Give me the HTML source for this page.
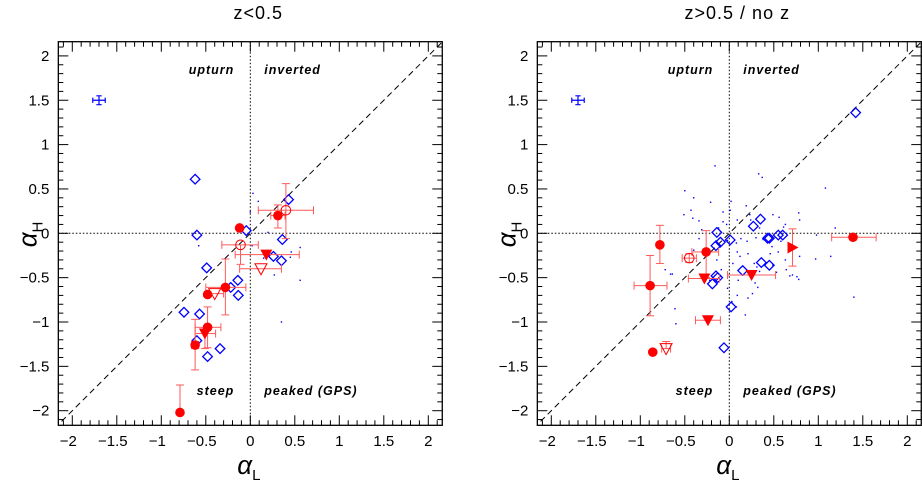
<!DOCTYPE html>
<html><head><meta charset="utf-8"><style>
html,body{margin:0;padding:0;background:#fff}
svg text{font-family:"Liberation Sans",sans-serif}
</style></head><body>
<svg id="c" width="922" height="484" viewBox="0 0 922 484" xmlns="http://www.w3.org/2000/svg"></svg>
<script>
// ---- data: left panel (z<0.5) ----
const leftDiamonds=[[-0.62,0.61],[-0.60,-0.02],[-0.045,0.03],[0.43,0.38],[0.36,-0.07],[0.26,-0.26],[0.35,-0.31],[-0.49,-0.39],[-0.14,-0.53],[-0.22,-0.61],[-0.135,-0.70],[-0.745,-0.89],[-0.57,-0.91],[-0.60,-1.21],[-0.48,-1.39],[-0.34,-1.30]];
const leftDots=[[0.03,0.45],[0.09,0.36],[0,0.24],[0.20,0.01],[0.02,-0.14],[-0.58,-0.14],[0.27,-0.47],[0.56,-0.53],[0.56,-0.16],[0.46,-0.21],[0.35,-1.0],[0.15,-0.28],[0.45,-0.27]];
// [x,y,xlo,xhi,ylo,yhi]
const leftCircles=[[-0.12,0.06,null,null,null,null],[0.31,0.20,0.23,0.39,0.06,0.32],[-0.28,-0.61,-0.50,-0.05,-0.92,-0.29],[-0.48,-0.69,null,null,null,null],[-0.48,-1.06,-0.62,-0.33,-1.29,-0.83],[-0.62,-1.26,-0.66,-0.58,-1.54,-0.97],[-0.79,-2.02,null,null,null,-1.71]];
const leftOpenCircles=[[0.40,0.26,0.09,0.71,-0.06,0.56],[-0.11,-0.13,-0.32,0.09,-0.35,null]];
const leftTriDown=[[0.18,-0.24,-0.17,0.55,null,null],[-0.51,-1.13,-0.62,-0.39,-1.30,null]];
const leftOpenTriDown=[[0.12,-0.40,-0.12,0.35,null,null],[-0.40,-0.68,-0.50,-0.30,null,null]];
const leftTriRight=[];
// ---- data: right panel (z>0.5 / no z) ----
const rightDiamonds=[[1.42,1.36],[-0.14,0.01],[0.35,0.16],[0.27,0.08],[0.01,-0.075],[-0.10,-0.10],[-0.15,-0.14],[0.43,-0.056],[0.45,-0.056],[0.55,-0.02],[0.60,-0.02],[0.36,-0.33],[0.45,-0.36],[0.15,-0.42],[-0.15,-0.48],[-0.13,-0.50],[-0.19,-0.57],[0.02,-0.83],[-0.06,-1.29]];
const rightDots=[[-0.16,0.76],[0.33,0.67],[0.37,0.63],[-0.50,0.48],[-0.40,0.40],[-0.21,0.35],[0.02,0.36],[0.19,0.31],[-0.43,0.26],[-0.51,0.21],[-0.41,0.17],[-0.07,0.24],[0.01,0.26],[-0.34,0.14],[-0.07,0.13],[-0.03,0.10],[0.09,0.15],[0.23,0.21],[0.24,0.15],[0.34,0.06],[0.49,0.21],[0.56,0.18],[0.63,0.10],[0.61,0.07],[0.78,0.23],[0.79,0.15],[0.98,-0.02],[1.08,0.51],[1.19,0.06],[1.14,-0.26],[0.97,-0.29],[1.40,-0.72],[-0.31,0.04],[-0.34,-0.06],[-0.12,0.06],[-0.02,-0.08],[0.08,-0.11],[0.13,-0.06],[0.20,-0.09],[0.30,-0.05],[0.38,-0.07],[0.48,-0.15],[0.55,-0.21],[0.63,-0.30],[0.79,-0.26],[0.71,-0.47],[0.68,-0.48],[0.76,-0.49],[0.78,-0.52],[0.09,-0.21],[0.12,-0.26],[0.21,-0.23],[0.04,-0.34],[0.28,-0.34],[0.31,-0.38],[0.34,-0.43],[0.10,-0.53],[0.29,-0.56],[0.32,-0.61],[0.26,-0.68],[-0.02,-0.62],[0.09,-0.70],[0.03,-0.77],[0.08,-0.83],[0.18,-0.92],[-0.61,-0.85],[-0.66,-0.46],[-0.72,-0.41],[-0.40,-0.19],[-0.14,-0.30],[-0.09,-0.41],[0.53,-0.44],[0.64,-0.41],[0.49,-0.36],[0.21,-0.73],[-0.22,-0.53],[0.58,-0.09],[0.46,-0.23],[-0.60,-1.02],[-0.64,-0.46]];
const rightCircles=[[1.39,-0.045,1.15,1.65,null,null],[-0.78,-0.13,null,null,-0.34,0.09],[-0.26,-0.21,-0.42,-0.12,-0.50,0.03],[-0.89,-0.59,-1.07,-0.70,-0.93,-0.25],[-0.86,-1.34,null,null,null,null]];
const rightOpenCircles=[[-0.45,-0.28,-0.53,-0.37,-0.33,-0.23]];
const rightTriDown=[[-0.28,-0.51,-0.46,-0.11,null,null],[0.25,-0.47,-0.02,0.52,null,null],[-0.24,-0.98,-0.38,-0.10,null,null]];
const rightOpenTriDown=[[-0.71,-1.30,-0.76,-0.66,null,-1.22]];
const rightTriRight=[[0.71,-0.16,null,null,-0.37,0.05]];
const xTicks=[-2,-1.5,-1,-0.5,0,0.5,1,1.5,2];
const xTickLabels=["\u22122","\u22121.5","\u22121","\u22120.5","0","0.5","1","1.5","2"];
const yTicks=xTicks, yTickLabels=xTickLabels;

const NS="http://www.w3.org/2000/svg", svg=document.getElementById('c');
function mk(t,a,p){const e=document.createElementNS(NS,t);for(const k in a)e.setAttribute(k,a[k]);(p||svg).appendChild(e);return e;}
const RED="#ff0000", EB="#ff5a5a", BLUE="#0000ff";
function panel(name,X0,title,D){
  const sx=89, sy=88.7, Y0=233.3, L=X0-2.157*sx, R=X0+2.157*sx, T=41.7, B=425.3;
  const X=v=>X0+v*sx, Y=v=>Y0-v*sy;
  const g=mk('g',{});  
  const t=mk('text',{x:(L+R)/2+8,y:19,'font-size':18,'text-anchor':'middle','letter-spacing':1,'font-family':'Liberation Serif, serif'},g); t.textContent=title;
   
  for(let i=-21;i<=21;i++){const v=i/10, major=i%5===0, len=major?10:5;
    const px=X(v), py=Y(v);
    mk('line',{x1:px,y1:B,x2:px,y2:B-len,stroke:'#000','stroke-width':1},g);
    mk('line',{x1:px,y1:T,x2:px,y2:T+len,stroke:'#000','stroke-width':1},g);
    mk('line',{x1:L,y1:py,x2:L+len,y2:py,stroke:'#000','stroke-width':1},g);
    mk('line',{x1:R,y1:py,x2:R-len,y2:py,stroke:'#000','stroke-width':1},g);}
  xTicks.forEach((v,i)=>{const e=mk('text',{x:X(v)-(v<0?4:0),y:446,'font-size':15,'text-anchor':'middle'},g);e.textContent=xTickLabels[i];
     });
  yTicks.forEach((v,i)=>{const e=mk('text',{x:L-9,y:Y(v)+5,'font-size':15,'text-anchor':'end'},g);e.textContent=yTickLabels[i];
     });
  const xl=mk('text',{x:(L+R)/2-13,y:474,'font-size':26,'font-style':'italic','font-family':'Liberation Serif, serif'},g); xl.innerHTML='α<tspan font-size="15" font-style="normal" dy="6">L</tspan>';
   
  const yl=mk('text',{x:0,y:0,'font-size':26,'font-style':'italic','font-family':'Liberation Serif, serif',transform:`translate(${L-22},${Y0+14}) rotate(-90)`},g); yl.innerHTML='α<tspan font-size="15" font-style="normal" dy="6">H</tspan>';
   
  const cl='clip'+name; const cp=mk('clipPath',{id:cl},g); mk('rect',{x:L,y:T,width:R-L,height:B-T},cp);
  const pg=mk('g',{'clip-path':`url(#${cl})`},g);
  const dg=mk('line',{x1:X(-2.2),y1:Y(-2.2),x2:X(2.2),y2:Y(2.2),stroke:'#000','stroke-dasharray':'6,4','stroke-width':1},pg);
   
  mk('line',{x1:X(0),y1:T,x2:X(0),y2:B,stroke:'#000','stroke-dasharray':'1.5,2','stroke-width':1},pg);
  mk('line',{x1:L,y1:Y(0),x2:R,y2:Y(0),stroke:'#000','stroke-dasharray':'1.5,2','stroke-width':1},pg);
  const q=(s,x,y,a)=>{const e=mk('text',{x,y,'font-size':12.5,'font-style':'italic','font-weight':'bold','text-anchor':a,'letter-spacing':1,'font-family':'Liberation Serif, serif'},g);e.textContent=s;
     };
  q('upturn',X(0)-16,74,'end'); q('inverted',X(0)+14,74,'start'); q('steep',X(0)-16,395,'end'); q('peaked (GPS)',X(0)+14,395,'start');
  const rc=mk('g',{stroke:BLUE,'stroke-width':1.2},pg);  
  mk('line',{x1:X(-1.77),y1:Y(1.5),x2:X(-1.63),y2:Y(1.5)},rc); mk('line',{x1:X(-1.7),y1:Y(1.55),x2:X(-1.7),y2:Y(1.45)},rc);
  mk('line',{x1:X(-1.77),y1:Y(1.53),x2:X(-1.77),y2:Y(1.47)},rc); mk('line',{x1:X(-1.63),y1:Y(1.53),x2:X(-1.63),y2:Y(1.47)},rc);
  mk('line',{x1:X(-1.73),y1:Y(1.55),x2:X(-1.67),y2:Y(1.55)},rc); mk('line',{x1:X(-1.73),y1:Y(1.45),x2:X(-1.67),y2:Y(1.45)},rc);
  D.dots.forEach(p=>{const e=mk('rect',{x:X(p[0])-0.7,y:Y(p[1])-0.7,width:1.4,height:1.4,fill:BLUE},pg);
     });
  D.diamonds.forEach(p=>{const x=X(p[0]),y=Y(p[1]),s=4.8;const e=mk('polygon',{points:`${x},${y-s} ${x+s},${y} ${x},${y+s} ${x-s},${y}`,fill:'none',stroke:BLUE,'stroke-width':1.3},pg);
     });
  const err=(p)=>{const x=X(p[0]),y=Y(p[1]),c=4;
    if(p[2]!=null){mk('line',{x1:X(p[2]),y1:y,x2:x,y2:y,stroke:EB},pg);mk('line',{x1:X(p[2]),y1:y-c,x2:X(p[2]),y2:y+c,stroke:EB},pg);}
    if(p[3]!=null){mk('line',{x1:x,y1:y,x2:X(p[3]),y2:y,stroke:EB},pg);mk('line',{x1:X(p[3]),y1:y-c,x2:X(p[3]),y2:y+c,stroke:EB},pg);}
    if(p[4]!=null){mk('line',{x1:x,y1:y,x2:x,y2:Y(p[4]),stroke:EB},pg);mk('line',{x1:x-c,y1:Y(p[4]),x2:x+c,y2:Y(p[4]),stroke:EB},pg);}
    if(p[5]!=null){mk('line',{x1:x,y1:y,x2:x,y2:Y(p[5]),stroke:EB},pg);mk('line',{x1:x-c,y1:Y(p[5]),x2:x+c,y2:Y(p[5]),stroke:EB},pg);}};
  [D.circles,D.open,D.tri,D.otri,D.tright].forEach(a=>a.forEach(err));
  D.circles.forEach(p=>{const e=mk('circle',{cx:X(p[0]),cy:Y(p[1]),r:4.8,fill:RED},pg);});
  D.open.forEach(p=>{const e=mk('circle',{cx:X(p[0]),cy:Y(p[1]),r:4.8,fill:'none',stroke:RED},pg);});
  D.tri.forEach(p=>{const x=X(p[0]),y=Y(p[1]);const e=mk('polygon',{points:`${x-6},${y-5} ${x+6},${y-5} ${x},${y+6}`,fill:RED},pg);});
  D.otri.forEach(p=>{const x=X(p[0]),y=Y(p[1]);const e=mk('polygon',{points:`${x-6},${y-5} ${x+6},${y-5} ${x},${y+6}`,fill:'none',stroke:RED},pg);});
  D.tright.forEach(p=>{const x=X(p[0]),y=Y(p[1]);const e=mk('polygon',{points:`${x-5},${y-6} ${x-5},${y+6} ${x+6},${y}`,fill:RED},pg);});
  const fr=mk('rect',{x:L,y:T,width:R-L,height:B-T,fill:'none',stroke:'#000','stroke-width':1.3},g);
   
}
panel('left',250.3,'z<0.5',{dots:leftDots,diamonds:leftDiamonds,circles:leftCircles,open:leftOpenCircles,tri:leftTriDown,otri:leftOpenTriDown,tright:leftTriRight});
panel('right',729.3,'z>0.5 / no z',{dots:rightDots,diamonds:rightDiamonds,circles:rightCircles,open:rightOpenCircles,tri:rightTriDown,otri:rightOpenTriDown,tright:rightTriRight});
</script>
</body></html>
